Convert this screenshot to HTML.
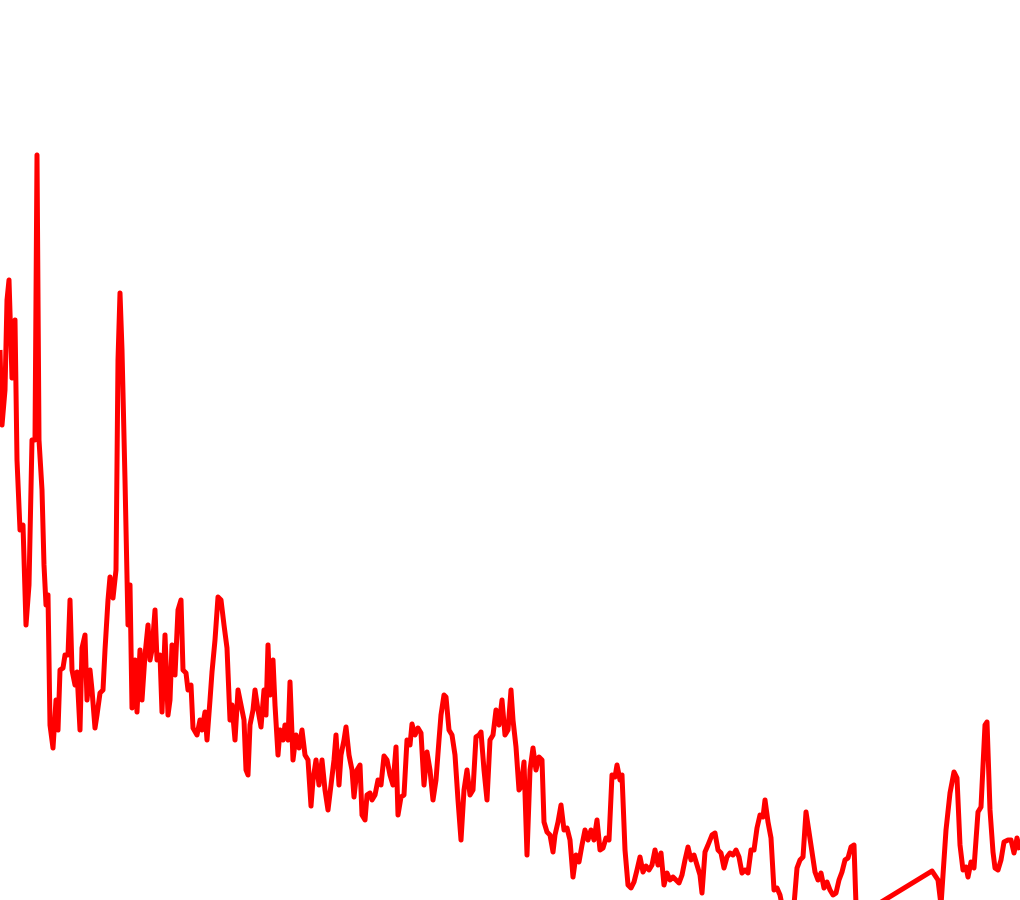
<!DOCTYPE html>
<html><head><meta charset="utf-8">
<style>html,body{margin:0;padding:0;background:#fff;}svg{display:block;}</style>
</head><body>
<svg id="chart" width="1020" height="900" viewBox="0 0 1020 900">
<g id="plot"></g>
</svg>
<script>
const xs = [0,2,5,7,9,12,15,17,20,23,26,29,32,35,37,39,42,44,46,48,50,53,56,58,60,63,65,68,70,72,75,77,80,82,85,87,90,92,95,97,100,103,105,108,110,113,116,118,120,122,125,128,130,132,135,137,140,142,145,148,150,152,155,157,160,162,165,168,170,172,175,178,181,183,186,188,191,193,197,200,202,205,207,210,212,215,218,221,224,227,230,232,235,238,241,244,246,248,250,253,255,258,261,264,266,268,270,273,275,278,280,283,285,288,290,293,296,299,302,305,308,311,313,316,319,322,325,328,331,334,336,339,341,344,346,349,352,354,357,360,362,365,367,370,372,375,378,381,384,387,390,393,396,398,401,404,407,410,412,415,418,421,424,427,430,433,436,439,441,444,446,449,452,455,458,461,464,467,470,473,476,479,481,484,487,490,493,496,499,502,505,508,511,513,516,519,521,524,527,530,533,536,539,542,544,547,550,553,555,558,561,564,567,570,573,576,579,582,585,588,591,594,597,600,603,606,609,612,615,617,620,622,625,628,631,634,637,640,643,646,649,652,655,658,661,664,667,670,673,676,679,682,685,688,691,694,697,700,702,705,708,712,715,718,721,724,727,730,733,736,739,742,745,748,751,754,757,760,763,765,768,771,774,777,780,782,788,794,797,800,803,806,809,812,815,818,821,824,827,830,833,836,839,842,845,848,851,854,856,860,932,938,941,946,950,954,957,960,963,966,968,971,974,978,981,985,987,990,993,995,998,1001,1004,1008,1011,1014,1017,1020];
const vals = [350,425,390,300,280,378,320,460,530,525,625,585,440,440,155,440,490,565,605,595,725,748,700,730,670,668,655,655,600,670,685,672,730,648,635,700,670,690,728,715,693,690,650,600,577,598,570,360,293,350,480,625,585,708,660,712,650,700,655,625,660,650,610,660,655,712,635,715,700,645,675,610,600,670,673,690,685,728,735,720,730,712,740,700,672,640,597,600,625,648,720,705,740,690,705,720,770,775,725,710,690,710,727,690,715,645,695,660,705,755,730,740,725,740,682,760,735,748,730,755,760,806,780,760,785,760,790,810,785,760,735,785,755,740,727,755,770,797,770,765,815,820,795,793,800,795,780,785,756,760,775,785,747,815,797,795,740,745,724,735,728,733,785,752,770,800,780,740,715,695,697,730,735,755,800,840,790,770,795,790,737,735,732,770,800,740,735,710,725,700,735,730,690,720,747,790,787,762,855,770,748,770,757,760,822,832,835,852,835,822,805,830,828,840,877,855,862,845,830,840,830,840,820,850,848,838,840,775,777,765,780,775,850,885,888,882,870,857,872,866,870,865,850,865,853,885,873,880,877,880,883,875,860,847,860,855,865,875,893,852,845,835,833,850,853,868,857,853,855,850,857,873,870,873,850,850,828,815,817,800,822,838,890,888,895,905,915,905,868,860,857,812,832,852,872,880,873,888,882,890,895,893,880,872,860,858,847,845,905,915,871,880,905,830,793,772,778,845,870,867,877,862,868,812,807,725,722,810,852,868,870,860,842,840,840,853,838,850];
const xDomain=[0,1020], xRange=[0,1020];
const yDomain=[0,900], yRange=[0,900];
function sx(v){return xRange[0]+(v-xDomain[0])/(xDomain[1]-xDomain[0])*(xRange[1]-xRange[0]);}
function sy(v){return yRange[0]+(v-yDomain[0])/(yDomain[1]-yDomain[0])*(yRange[1]-yRange[0]);}
const pts = xs.map((x,i)=>sx(x).toFixed(1)+','+sy(vals[i]).toFixed(1)).join(' ');
const line = document.createElementNS('http://www.w3.org/2000/svg','polyline');
line.setAttribute('points', pts);
line.setAttribute('fill','none');
line.setAttribute('stroke','#ff0000');
line.setAttribute('stroke-width','5');
line.setAttribute('stroke-linejoin','round');


document.getElementById('plot').appendChild(line);
</script>
</body></html>
